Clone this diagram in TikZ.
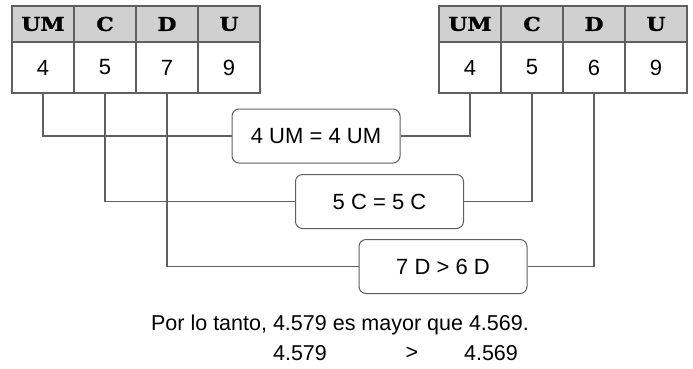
\documentclass[tikz,border=0pt]{standalone}
\usepackage{fontspec}
\setmainfont{Liberation Sans}
\newfontfamily\headfont[FakeStretch=1.15, FakeBold=1.5]{DejaVu Serif}
\usetikzlibrary{positioning}
\definecolor{linegray}{RGB}{95, 95, 95}
\definecolor{headgray}{RGB}{208, 208, 208}
\tikzstyle{headcell} = [rectangle, minimum width=62pt, minimum height=36pt, inner sep=0pt, outer sep=0pt, draw=linegray, line width=1.2pt, fill=headgray, font=\headfont\bfseries\fontsize{19}{19}\selectfont]
\tikzstyle{digitcell} = [rectangle, minimum width=62pt, minimum height=51pt, inner sep=0pt, outer sep=0pt, draw=linegray, line width=1.2pt, font=\fontsize{22}{22}\selectfont]
\tikzstyle{comparebox} = [rectangle, rounded corners=7pt, minimum width=168pt, minimum height=54pt, draw=linegray, line width=1pt, font=\fontsize{22}{22}\selectfont]
\tikzstyle{link} = [draw=linegray, line width=1.1pt]

\begin{document}
\begin{tikzpicture}[x=1pt, y=-1pt, font=\fontsize{21.5}{21.5}\selectfont]
\useasboundingbox (0,0) rectangle (693,368);

% First number: 4.579
\node (lUM) [headcell] at (43,24) {UM};
\node (lC) [headcell, right=0pt of lUM] {C};
\node (lD) [headcell, right=0pt of lC] {D};
\node (lU) [headcell, right=0pt of lD] {U};
\node (l4) [digitcell, below=0pt of lUM] {4};
\node (l5) [digitcell, below=0pt of lC] {5};
\node (l7) [digitcell, below=0pt of lD] {7};
\node (l9) [digitcell, below=0pt of lU] {9};

% Second number: 4.569
\node (rUM) [headcell] at (470,24) {UM};
\node (rC) [headcell, right=0pt of rUM] {C};
\node (rD) [headcell, right=0pt of rC] {D};
\node (rU) [headcell, right=0pt of rD] {U};
\node (r4) [digitcell, below=0pt of rUM] {4};
\node (r5) [digitcell, below=0pt of rC] {5};
\node (r6) [digitcell, below=0pt of rD] {6};
\node (r9) [digitcell, below=0pt of rU] {9};

% Comparisons place by place
\node (cmpUM) [comparebox] at (316,136) {4 UM = 4 UM};
\node (cmpC) [comparebox] at (379.5,201.5) {5 C = 5 C};
\node (cmpD) [comparebox] at (443,266.5) {7 D > 6 D};

% Connectors
\draw [link] (l4.south) |- (cmpUM.west);
\draw [link] (cmpUM.east) -| (r4.south);
\draw [link] (l5.south) |- (cmpC.west);
\draw [link] (cmpC.east) -| (r5.south);
\draw [link] (l7.south) |- (cmpD.west);
\draw [link] (cmpD.east) -| (r6.south);

% Conclusion
\node (concl) at (340,325) {Por lo tanto, 4.579 es mayor que 4.569.};
\node (numA) at (300,353) {4.579};
\node (gt) at (412,353) {>};
\node (numB) at (491,353) {4.569};

\end{tikzpicture}
\end{document}
